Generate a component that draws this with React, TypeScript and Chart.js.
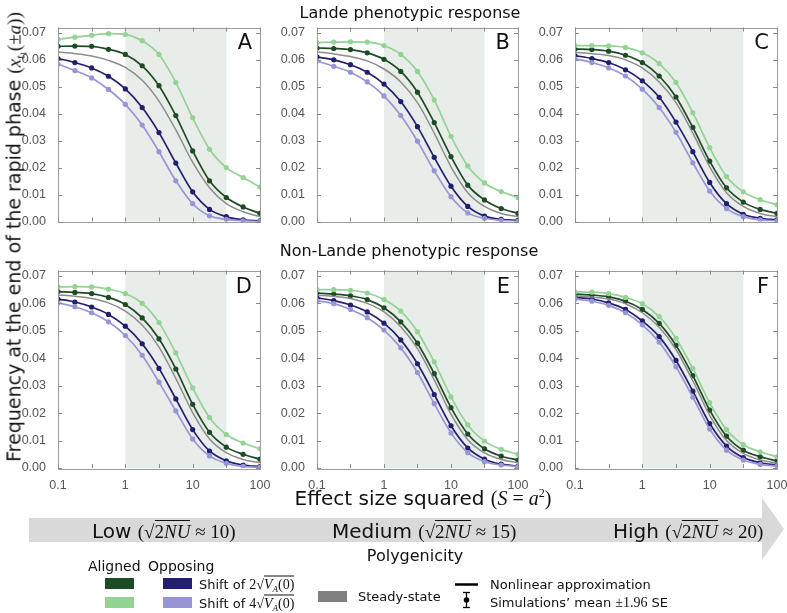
import React, { useEffect, useRef } from "react";
import { Chart, registerables } from "chart.js";

Chart.register(...registerables);

// Effect size squared (S = a^2), quarter-decade sampling
const sValues = [0.1, 0.178, 0.316, 0.562, 1, 1.78, 3.16, 5.62, 10, 17.8, 31.6, 56.2, 100];
const xTickLabels = [0.1, 1, 10, 100];
const xTickMarks = [0.1, 0.316, 1, 3.16, 10, 31.6, 100];
const yTicks = [0, 0.01, 0.02, 0.03, 0.04, 0.05, 0.06, 0.07];
const shadeStart = 1;
const shadeEnd = 31.6;

// Panel A (Lande, low polygenicity)
const A_lightGreen = [0.0676, 0.0684, 0.0691, 0.0697, 0.0694, 0.0671, 0.062, 0.0516, 0.0385, 0.0268, 0.02, 0.0163, 0.0128];
const A_darkGreen = [0.065, 0.0651, 0.065, 0.0639, 0.062, 0.0578, 0.0504, 0.0393, 0.0262, 0.0151, 0.0089, 0.0054, 0.003];
const A_gray = [0.0629, 0.0623, 0.0614, 0.0598, 0.0572, 0.0524, 0.0447, 0.034, 0.022, 0.0125, 0.0066, 0.0036, 0.0018];
const A_darkBlue = [0.0605, 0.059, 0.057, 0.0539, 0.0492, 0.0423, 0.033, 0.0217, 0.011, 0.0045, 0.0018, 0.0006, 0.0002];
const A_lightBlue = [0.0584, 0.056, 0.0533, 0.049, 0.0435, 0.0358, 0.0259, 0.0151, 0.0066, 0.0021, 0.0008, 0.0002, 0.0];

// Panel B (Lande, medium)
const B_lightGreen = [0.0664, 0.0666, 0.0667, 0.0666, 0.0653, 0.062, 0.0557, 0.0451, 0.0316, 0.0206, 0.0143, 0.0111, 0.0089];
const B_darkGreen = [0.0644, 0.0642, 0.0638, 0.0626, 0.0602, 0.0557, 0.048, 0.0367, 0.0241, 0.0135, 0.008, 0.0048, 0.003];
const B_gray = [0.0629, 0.0622, 0.0612, 0.0596, 0.0566, 0.0518, 0.0441, 0.0328, 0.0203, 0.0107, 0.0056, 0.003, 0.0018];
const B_darkBlue = [0.0611, 0.06, 0.0582, 0.0554, 0.051, 0.0445, 0.0352, 0.0238, 0.0131, 0.0056, 0.002, 0.0008, 0.0004];
const B_lightBlue = [0.0596, 0.0576, 0.0554, 0.0518, 0.0466, 0.0393, 0.0298, 0.0188, 0.0092, 0.0032, 0.0012, 0.0004, 0.0001];

// Panel C (Lande, high)
const C_lightGreen = [0.0653, 0.0653, 0.0652, 0.0646, 0.0626, 0.0586, 0.0516, 0.0404, 0.0274, 0.0167, 0.011, 0.0081, 0.0062];
const C_darkGreen = [0.064, 0.0638, 0.0632, 0.0617, 0.059, 0.054, 0.0462, 0.0349, 0.0224, 0.0125, 0.0072, 0.0045, 0.003];
const C_gray = [0.0628, 0.0623, 0.0616, 0.06, 0.057, 0.0518, 0.0441, 0.0328, 0.0203, 0.0107, 0.0056, 0.003, 0.0018];
const C_darkBlue = [0.0616, 0.0605, 0.059, 0.0563, 0.0522, 0.0461, 0.0369, 0.0259, 0.0145, 0.0066, 0.0027, 0.0012, 0.0006];
const C_lightBlue = [0.0604, 0.059, 0.057, 0.054, 0.0491, 0.0423, 0.0331, 0.0218, 0.0113, 0.0048, 0.0018, 0.0006, 0.0002];

// Panel D (Non-Lande, low)
const D_lightGreen = [0.066, 0.0661, 0.066, 0.0652, 0.0636, 0.06, 0.053, 0.042, 0.0292, 0.0184, 0.0122, 0.0091, 0.007];
const D_darkGreen = [0.0643, 0.064, 0.0636, 0.0622, 0.0596, 0.0547, 0.0471, 0.0361, 0.0232, 0.013, 0.0076, 0.005, 0.0032];
const D_gray = [0.0631, 0.0626, 0.0618, 0.0602, 0.0572, 0.0521, 0.0441, 0.0327, 0.0202, 0.0106, 0.0056, 0.0031, 0.0019];
const D_darkBlue = [0.0616, 0.0605, 0.0587, 0.056, 0.0517, 0.0453, 0.0363, 0.0252, 0.014, 0.0062, 0.0026, 0.0011, 0.0005];
const D_lightBlue = [0.0602, 0.0588, 0.0566, 0.0533, 0.0483, 0.0411, 0.0313, 0.0208, 0.0106, 0.0044, 0.0017, 0.0006, 0.0002];

// Panel E (Non-Lande, medium)
const E_lightGreen = [0.065, 0.065, 0.0648, 0.0638, 0.0614, 0.0572, 0.0497, 0.0387, 0.0259, 0.0157, 0.0098, 0.0068, 0.005];
const E_darkGreen = [0.0638, 0.0634, 0.0628, 0.0614, 0.0584, 0.0533, 0.0455, 0.0344, 0.022, 0.0124, 0.007, 0.0043, 0.0029];
const E_gray = [0.063, 0.0626, 0.0618, 0.06, 0.0569, 0.0515, 0.0435, 0.0321, 0.0196, 0.0103, 0.0055, 0.0031, 0.0019];
const E_darkBlue = [0.062, 0.061, 0.0594, 0.0569, 0.0528, 0.0467, 0.038, 0.0268, 0.0154, 0.0073, 0.0032, 0.0014, 0.0007];
const E_lightBlue = [0.061, 0.0599, 0.0578, 0.0548, 0.0503, 0.0438, 0.0348, 0.0235, 0.0128, 0.0056, 0.0023, 0.0011, 0.0005];

// Panel F (Non-Lande, high)
const F_lightGreen = [0.0642, 0.0641, 0.0636, 0.0622, 0.0599, 0.0552, 0.0473, 0.0363, 0.0238, 0.014, 0.0085, 0.0059, 0.0041];
const F_darkGreen = [0.0634, 0.0631, 0.0624, 0.0608, 0.0578, 0.0527, 0.0447, 0.0337, 0.0211, 0.0116, 0.0065, 0.0041, 0.0026];
const F_gray = [0.0628, 0.0623, 0.0616, 0.0599, 0.0566, 0.0513, 0.0432, 0.0318, 0.0192, 0.01, 0.0053, 0.0029, 0.0018];
const F_darkBlue = [0.0622, 0.0616, 0.0602, 0.0578, 0.0536, 0.0479, 0.0392, 0.028, 0.0162, 0.008, 0.0038, 0.0019, 0.0011];
const F_lightBlue = [0.0616, 0.0608, 0.0593, 0.0566, 0.0522, 0.0459, 0.0369, 0.0258, 0.0142, 0.0065, 0.0029, 0.0013, 0.0007];

const COL = {
  lightGreen: "#93d393",
  darkGreen: "#1d4b24",
  gray: "#8c8c8c",
  darkBlue: "#211f6e",
  lightBlue: "#9895d6",
};

const PANELS = [
  { id: "A", L: 58, R: 260, T: 24, B: 225, bottom: false, s: [A_gray, A_lightBlue, A_darkBlue, A_lightGreen, A_darkGreen] },
  { id: "B", L: 317, R: 518, T: 24, B: 225, bottom: false, s: [B_gray, B_lightBlue, B_darkBlue, B_lightGreen, B_darkGreen] },
  { id: "C", L: 575, R: 777, T: 24, B: 225, bottom: false, s: [C_gray, C_lightBlue, C_darkBlue, C_lightGreen, C_darkGreen] },
  { id: "D", L: 58, R: 260, T: 267, B: 468, bottom: true, s: [D_gray, D_lightBlue, D_darkBlue, D_lightGreen, D_darkGreen] },
  { id: "E", L: 317, R: 518, T: 267, B: 468, bottom: true, s: [E_gray, E_lightBlue, E_darkBlue, E_lightGreen, E_darkGreen] },
  { id: "F", L: 575, R: 777, T: 267, B: 468, bottom: true, s: [F_gray, F_lightBlue, F_darkBlue, F_lightGreen, F_darkGreen] },
];
const SERIES_COLORS = [COL.gray, COL.lightBlue, COL.darkBlue, COL.lightGreen, COL.darkGreen];

const YAXW = 55;
const PADT = 8;
const PADR = 16;

const decor = {
  id: "decor",
  beforeDatasetsDraw(chart: any) {
    const { ctx, chartArea, scales } = chart;
    const x1 = scales.x.getPixelForValue(shadeStart);
    const x2 = scales.x.getPixelForValue(shadeEnd);
    ctx.save();
    ctx.fillStyle = "#e8edea";
    ctx.fillRect(x1, chartArea.top, x2 - x1, chartArea.bottom - chartArea.top);
    ctx.restore();
  },
  afterDraw(chart: any) {
    const { ctx, chartArea, scales } = chart;
    const { left, right, top, bottom } = chartArea;
    ctx.save();
    ctx.strokeStyle = "#9c9c9c";
    ctx.lineWidth = 1;
    ctx.strokeRect(Math.round(left) + 0.5, Math.round(top) + 0.5, Math.round(right - left), Math.round(bottom - top));
    ctx.strokeStyle = "#8a8a8a";
    ctx.beginPath();
    xTickMarks.forEach((v) => {
      const px = Math.round(scales.x.getPixelForValue(v)) + 0.5;
      ctx.moveTo(px, bottom);
      ctx.lineTo(px, bottom - 4);
      ctx.moveTo(px, top);
      ctx.lineTo(px, top + 4);
    });
    yTicks.forEach((v) => {
      const py = Math.round(scales.y.getPixelForValue(v)) + 0.5;
      ctx.moveTo(left, py);
      ctx.lineTo(left + 4, py);
      ctx.moveTo(right, py);
      ctx.lineTo(right - 4, py);
    });
    ctx.stroke();
    ctx.restore();
  },
};

function Panel({ p }: { p: any }) {
  const ref = useRef<HTMLCanvasElement>(null);
  const xh = p.bottom ? 22 : 8;
  const w = p.R - p.L + YAXW + PADR;
  const h = p.B - p.T + PADT + xh;
  useEffect(() => {
    const datasets = p.s.map((arr: number[], i: number) => ({
      data: sValues.map((x, k) => ({ x, y: arr[k] })),
      borderColor: SERIES_COLORS[i],
      backgroundColor: SERIES_COLORS[i],
      borderWidth: i === 0 ? 1.5 : 1.7,
      pointRadius: i === 0 ? 0 : 2.6,
      pointBorderWidth: 0,
      cubicInterpolationMode: "monotone",
      fill: false,
    }));
    const chart = new Chart(ref.current as HTMLCanvasElement, {
      type: "line",
      data: { datasets },
      options: {
        animation: false,
        responsive: false,
        devicePixelRatio: 1,
        events: [],
        layout: { padding: { top: PADT, right: PADR, left: 0, bottom: 0 } },
        plugins: { legend: { display: false }, tooltip: { enabled: false } },
        scales: {
          x: {
            type: "logarithmic",
            min: 0.1,
            max: 100,
            afterBuildTicks: (s: any) => {
              s.ticks = xTickLabels.map((v) => ({ value: v }));
            },
            afterFit: (s: any) => {
              s.height = xh;
            },
            grid: { display: false },
            border: { display: false },
            ticks: {
              display: p.bottom,
              autoSkip: false,
              maxRotation: 0,
              padding: 2,
              color: "#555",
              font: { family: "Liberation Sans", size: 12.5 },
              callback: (v: any) => String(v),
            },
          },
          y: {
            type: "linear",
            min: 0,
            max: 0.072,
            afterBuildTicks: (s: any) => {
              s.ticks = yTicks.map((v) => ({ value: v }));
            },
            afterFit: (s: any) => {
              s.width = YAXW;
            },
            grid: { display: false },
            border: { display: false },
            ticks: {
              padding: 4,
              color: "#555",
              font: { family: "Liberation Sans", size: 12.5 },
              callback: (v: any) => Number(v).toFixed(2),
            },
          },
        },
      },
      plugins: [decor],
    } as any);
    return () => chart.destroy();
  }, []);
  return (
    <>
      <canvas
        ref={ref}
        width={w}
        height={h}
        style={{ position: "absolute", left: p.L - YAXW, top: p.T - PADT, width: w, height: h }}
      />
      <div
        style={{
          position: "absolute",
          left: p.R - 8,
          top: p.T + (p.bottom ? 19 : 18),
          transform: "translate(-100%, -50%)",
          font: "21px 'DejaVu Sans'",
          color: "#111",
        }}
      >
        {p.id}
      </div>
    </>
  );
}

const M = "'Liberation Serif', serif";
const overline = { display: "inline-block", borderTop: "1px solid #111", lineHeight: 1.05, paddingTop: 1 } as const;

function Sqrt2NU() {
  return (
    <span style={{ fontFamily: M, fontSize: 19 }}>
      (√<span style={overline}>2<i>NU</i></span>
    </span>
  );
}

function SqrtVA({ k }: { k: string }) {
  return (
    <span style={{ fontFamily: M, fontSize: 14 }}>
      {k}√
      <span style={overline}>
        <i>V</i>
        <i style={{ fontSize: 9, position: "relative", top: 3 }}>A</i>(0)
      </span>
    </span>
  );
}

export default function App() {
  const abs = (l: number, t: number, extra: any = {}) => ({ position: "absolute" as const, left: l, top: t, whiteSpace: "nowrap" as const, ...extra });
  return (
    <div style={{ position: "absolute", left: 0, top: 0, width: 787, height: 613, background: "#fff", overflow: "hidden", fontFamily: "'DejaVu Sans'", color: "#111" }}>
      {PANELS.map((p) => (
        <Panel key={p.id} p={p} />
      ))}
      <div style={abs(410, 12, { transform: "translate(-50%,-50%)", fontSize: 16 })}>Lande phenotypic response</div>
      <div style={abs(409, 250, { transform: "translate(-50%,-50%)", fontSize: 16 })}>Non-Lande phenotypic response</div>
      <div style={abs(14, 237, { transform: "translate(-50%,-50%) rotate(-90deg)", fontSize: 19 })}>
        Frequency at the end of the rapid phase{" "}
        <span style={{ fontFamily: M }}>
          (<i>x</i>
          <i style={{ fontSize: 12, position: "relative", top: 4 }}>t</i>
          <span style={{ fontSize: 9, position: "relative", top: 6 }}>1</span>
          (±<i>a</i>))
        </span>
      </div>
      <div style={abs(423, 498, { transform: "translate(-50%,-50%)", fontSize: 20 })}>
        Effect size squared{" "}
        <span style={{ fontFamily: M }}>
          (<i>S</i> = <i>a</i>
          <sup style={{ fontSize: 12 }}>2</sup>)
        </span>
      </div>
      <svg width={787} height={613} style={{ position: "absolute", left: 0, top: 0 }}>
        <polygon points="29,518 762,518 762,498 784,529 762,560 762,542 29,542" fill="#d9d9d9" />
        <rect x={105} y={578} width={29} height={11} fill={COL.darkGreen} />
        <rect x={105} y={597} width={29} height={11} fill={COL.lightGreen} />
        <rect x={163} y={578} width={29} height={11} fill={COL.darkBlue} />
        <rect x={163} y={597} width={29} height={11} fill={COL.lightBlue} />
        <rect x={318} y={591} width={29} height={11} fill="#808080" />
        <line x1={455} y1={584.5} x2={478} y2={584.5} stroke="#000" strokeWidth={2.5} />
        <line x1={466.5} y1={592} x2={466.5} y2={608} stroke="#000" strokeWidth={1.3} />
        <line x1={463} y1={592.5} x2={470} y2={592.5} stroke="#000" strokeWidth={1.3} />
        <line x1={463} y1={607.5} x2={470} y2={607.5} stroke="#000" strokeWidth={1.3} />
        <circle cx={466.5} cy={600} r={2.8} fill="#000" />
      </svg>
      <div style={abs(92, 531, { transform: "translateY(-50%)", fontSize: 20 })}>
        Low <Sqrt2NU /><span style={{ fontFamily: M, fontSize: 19 }}> ≈ 10)</span>
      </div>
      <div style={abs(332, 531, { transform: "translateY(-50%)", fontSize: 20 })}>
        Medium <Sqrt2NU /><span style={{ fontFamily: M, fontSize: 19 }}> ≈ 15)</span>
      </div>
      <div style={abs(613, 531, { transform: "translateY(-50%)", fontSize: 20 })}>
        High <Sqrt2NU /><span style={{ fontFamily: M, fontSize: 19 }}> ≈ 20)</span>
      </div>
      <div style={abs(415, 555, { transform: "translate(-50%,-50%)", fontSize: 16 })}>Polygenicity</div>
      <div style={abs(88, 566, { transform: "translateY(-50%)", fontSize: 14 })}>Aligned</div>
      <div style={abs(148, 566, { transform: "translateY(-50%)", fontSize: 14 })}>Opposing</div>
      <div style={abs(199, 584, { transform: "translateY(-50%)", fontSize: 13 })}>
        Shift of <SqrtVA k="2" />
      </div>
      <div style={abs(199, 603, { transform: "translateY(-50%)", fontSize: 13 })}>
        Shift of <SqrtVA k="4" />
      </div>
      <div style={abs(358, 596, { transform: "translateY(-50%)", fontSize: 13 })}>Steady-state</div>
      <div style={abs(490, 584, { transform: "translateY(-50%)", fontSize: 13 })}>Nonlinear approximation</div>
      <div style={abs(490, 603, { transform: "translateY(-50%)", fontSize: 13 })}>
        Simulations’ mean <span style={{ fontFamily: M, fontSize: 14 }}>±1.96</span> SE
      </div>
    </div>
  );
}
